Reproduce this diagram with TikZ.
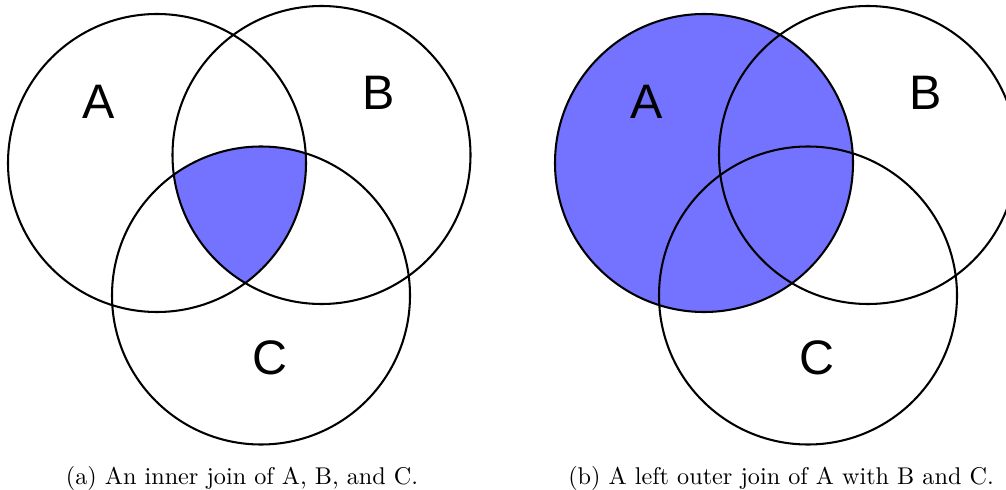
\documentclass[tikz,border=0pt]{standalone}
\usepackage{fontspec}
\newfontfamily\labelfont{Liberation Sans}
\begin{document}
\begin{tikzpicture}[x=0.413pt,y=-0.413pt,
  setcircle/.style={circle,draw=black,line width=0.85pt,minimum size=123.07pt,inner sep=0pt,outer sep=0pt},
  setlabel/.style={font=\labelfont\fontsize{20}{24}\selectfont,inner sep=0pt},
  caption/.style={anchor=base,inner sep=0pt,font=\normalsize},
  joinfill/.style={fill=blue!55}]
\def\R{61.535pt}
\path[use as bounding box] (0,0) rectangle (1006,490);
% ---------- (a) ----------
\coordinate (aAc) at (157,163);
\coordinate (aBc) at (321.5,155);
\coordinate (aCc) at (261,295.5);
\begin{scope}
  \clip (aAc) circle[radius=\R];
  \clip (aBc) circle[radius=\R];
  \fill[joinfill] (aCc) circle[radius=\R];
\end{scope}
\node[setcircle] (aA) at (aAc) {};
\node[setcircle] (aB) at (aBc) {};
\node[setcircle] (aC) at (aCc) {};
\node[setlabel] (aAl) at (99,102) {A};
\node[setlabel] (aBl) at (378.5,92.5) {B};
\node[setlabel] (aCl) at (270,357.5) {C};
\node[caption] (capa) at (242,484) {(a) An inner join of A, B, and C.};
% ---------- (b) ----------
\coordinate (bAc) at (704,163);
\coordinate (bBc) at (868,155);
\coordinate (bCc) at (808,295.5);
\fill[joinfill] (bAc) circle[radius=\R];
\node[setcircle] (bA) at (bAc) {};
\node[setcircle] (bB) at (bBc) {};
\node[setcircle] (bC) at (bCc) {};
\node[setlabel] (bAl) at (646.5,102) {A};
\node[setlabel] (bBl) at (925.5,92.5) {B};
\node[setlabel] (bCl) at (817,357.5) {C};
\node[caption] (capb) at (781,484) {(b) A left outer join of A with B and C.};
\end{tikzpicture}
\end{document}
